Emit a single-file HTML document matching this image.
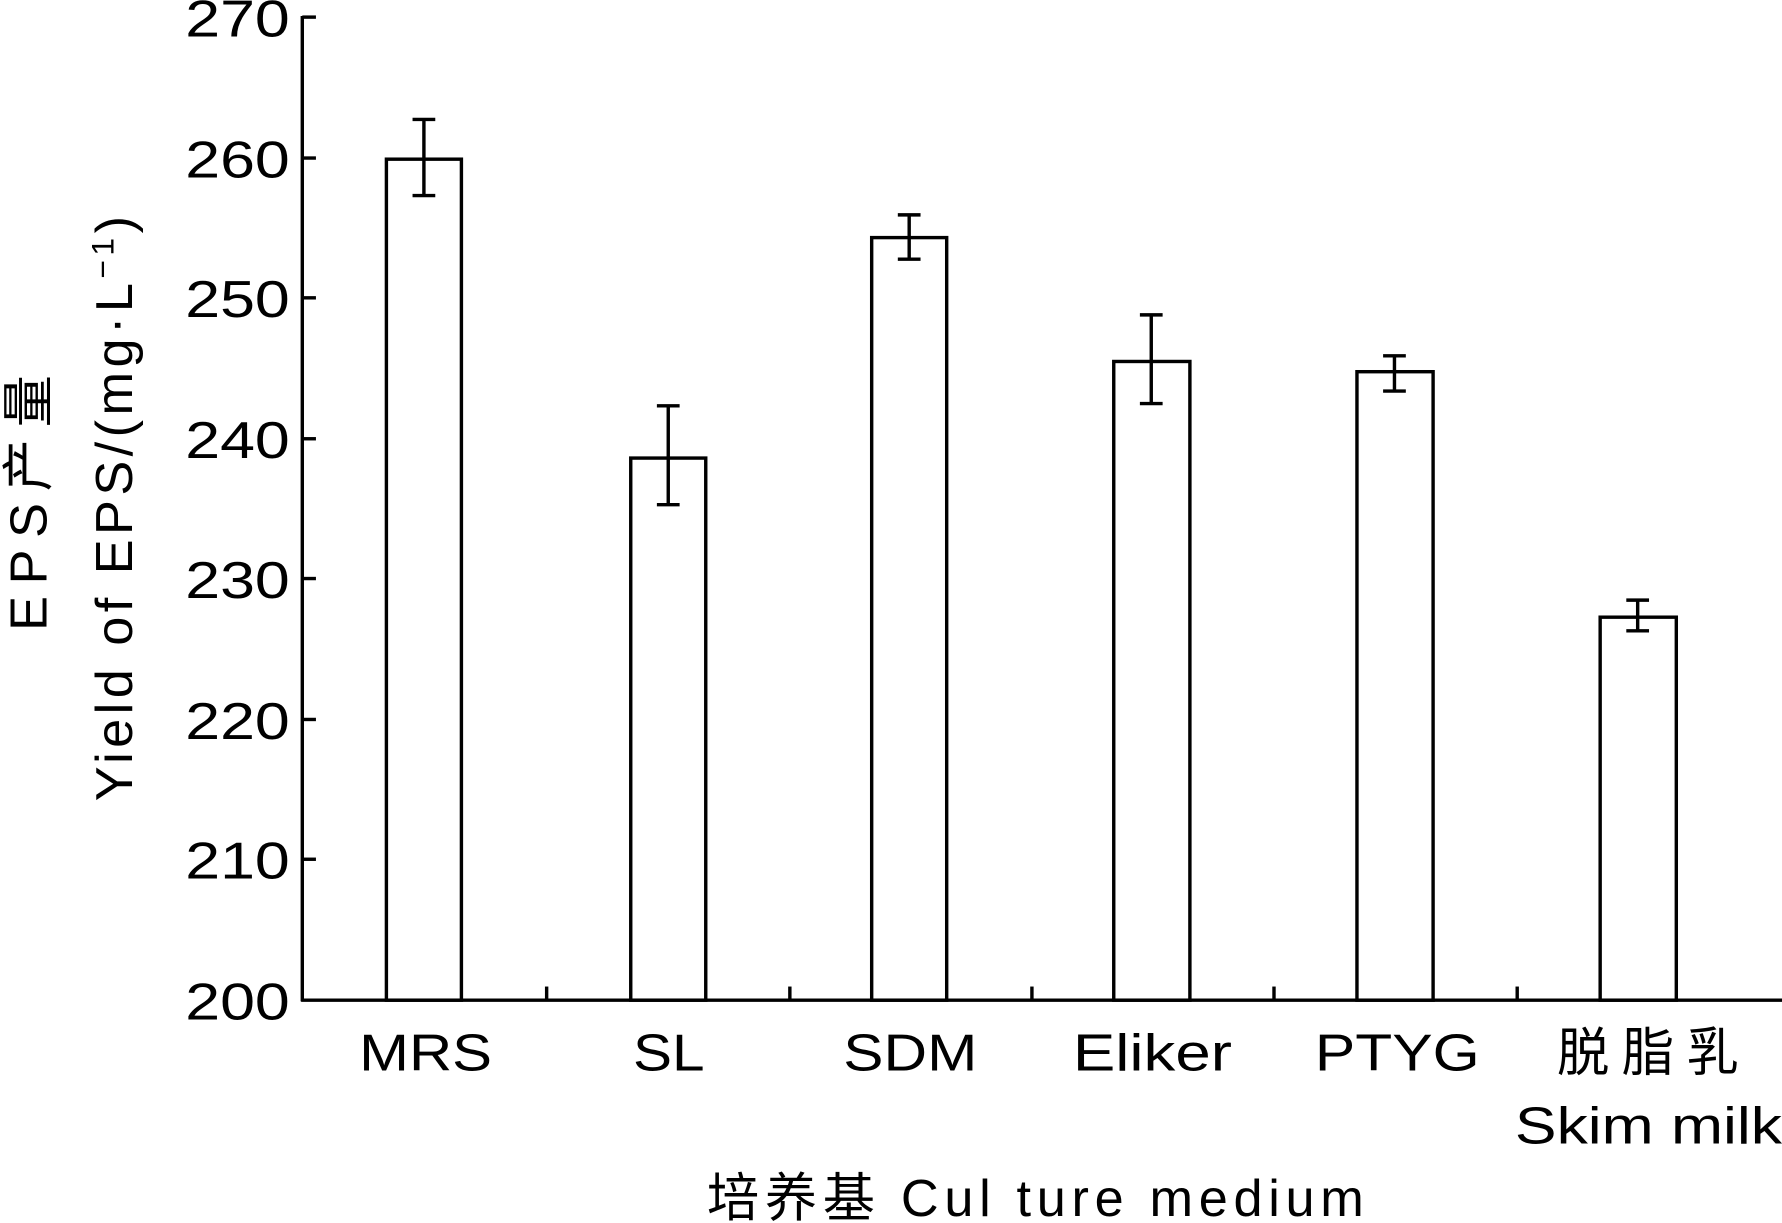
<!DOCTYPE html>
<html><head><meta charset="utf-8"><style>
html,body{margin:0;padding:0;background:#fff;}
svg{display:block;}
text{font-family:"Liberation Sans","Noto Sans CJK SC",sans-serif;fill:#000;}
</style></head><body>
<svg width="1782" height="1223" viewBox="0 0 1568 1076" xmlns="http://www.w3.org/2000/svg">
<g stroke="#000" stroke-width="3" fill="none">
<line x1="266" y1="14" x2="266" y2="881"/>
<line x1="265" y1="880" x2="1568" y2="880"/>
<line x1="266" y1="15" x2="278" y2="15"/>
<line x1="266" y1="139" x2="278" y2="139"/>
<line x1="266" y1="262" x2="278" y2="262"/>
<line x1="266" y1="386" x2="278" y2="386"/>
<line x1="266" y1="509" x2="278" y2="509"/>
<line x1="266" y1="633" x2="278" y2="633"/>
<line x1="266" y1="756" x2="278" y2="756"/>
<line x1="481" y1="880" x2="481" y2="868"/>
<line x1="695" y1="880" x2="695" y2="868"/>
<line x1="908" y1="880" x2="908" y2="868"/>
<line x1="1121" y1="880" x2="1121" y2="868"/>
<line x1="1335" y1="880" x2="1335" y2="868"/>
<rect x="340" y="140" width="66" height="740"/>
<rect x="555" y="403" width="66" height="477"/>
<rect x="767" y="209" width="66" height="671"/>
<rect x="980" y="318" width="67" height="562"/>
<rect x="1194" y="327" width="67" height="553"/>
<rect x="1408" y="543" width="67" height="337"/>
<path d="M373 105V172M363 105H383M363 172H383"/>
<path d="M588 357V444M578 357H598M578 444H598"/>
<path d="M800 189V228M790 189H810M790 228H810"/>
<path d="M1013 277V355M1003 277H1023M1003 355H1023"/>
<path d="M1227 313V344M1217 313H1237M1217 344H1237"/>
<path d="M1441 528V555M1431 528H1451M1431 555H1451"/>
</g>
<g font-size="46">
<text x="163" y="32" textLength="92" lengthAdjust="spacingAndGlyphs">270</text>
<text x="163" y="156" textLength="92" lengthAdjust="spacingAndGlyphs">260</text>
<text x="163" y="279" textLength="92" lengthAdjust="spacingAndGlyphs">250</text>
<text x="163" y="403" textLength="92" lengthAdjust="spacingAndGlyphs">240</text>
<text x="163" y="526" textLength="92" lengthAdjust="spacingAndGlyphs">230</text>
<text x="163" y="650" textLength="92" lengthAdjust="spacingAndGlyphs">220</text>
<text x="163" y="773" textLength="92" lengthAdjust="spacingAndGlyphs">210</text>
<text x="163" y="897" textLength="92" lengthAdjust="spacingAndGlyphs">200</text>
<text x="316" y="942" textLength="117" lengthAdjust="spacingAndGlyphs">MRS</text>
<text x="557" y="942" textLength="63" lengthAdjust="spacingAndGlyphs">SL</text>
<text x="742" y="942" textLength="118" lengthAdjust="spacingAndGlyphs">SDM</text>
<text x="944" y="942" textLength="140" lengthAdjust="spacingAndGlyphs">Eliker</text>
<text x="1157" y="942" textLength="145" lengthAdjust="spacingAndGlyphs">PTYG</text>
<text x="1370" y="942" textLength="160" lengthAdjust="spacing">脱脂乳</text>
<text x="1333" y="1006" textLength="235" lengthAdjust="spacingAndGlyphs">Skim milk</text>
<text x="622" y="1070" textLength="578" lengthAdjust="spacing">培养基 Cul ture medium</text>
</g>
<text font-size="46" transform="translate(116,705) rotate(-90)" textLength="515" lengthAdjust="spacing">Yield of EPS/(mg·L<tspan font-size="28" dy="-16">−1</tspan><tspan dy="16">)</tspan></text>
<text font-size="46" transform="translate(41,555) rotate(-90)" textLength="225" lengthAdjust="spacing">EPS产量</text>
</svg>
</body></html>
